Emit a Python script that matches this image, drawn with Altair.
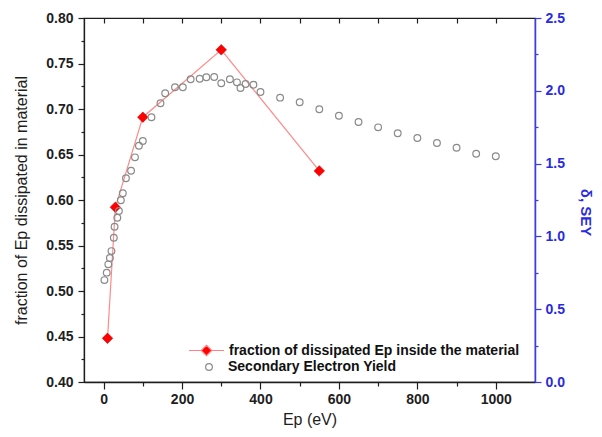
import altair as alt
import pandas as pd

# ---------------- data ----------------
frac_ep = [10, 30, 100, 300, 550]
frac_val = [0.448, 0.592, 0.691, 0.765, 0.632]

sey_ep = [2, 8, 12, 16, 20, 26, 28, 35, 39, 44, 49, 57, 70, 80, 90, 100,
          122, 145, 157, 182, 202, 222, 245, 262, 282, 300, 322, 340, 349,
          362, 382, 400, 450, 500, 550, 600, 650, 700, 750, 800, 850, 900,
          950, 1000]
sey_val = [0.700, 0.751, 0.808, 0.852, 0.899, 0.991, 1.066, 1.128, 1.174,
           1.248, 1.296, 1.399, 1.451, 1.543, 1.623, 1.655, 1.818, 1.914,
           1.983, 2.024, 2.024, 2.079, 2.083, 2.093, 2.095, 2.052, 2.079,
           2.058, 2.019, 2.047, 2.042, 1.992, 1.953, 1.921, 1.873, 1.829,
           1.786, 1.749, 1.708, 1.676, 1.641, 1.609, 1.568, 1.550]

x_ticks = [0, 100, 200, 300, 400, 500, 600, 700, 800, 900, 1000]
ly_ticks = [0.400, 0.425, 0.450, 0.475, 0.500, 0.525, 0.550, 0.575, 0.600,
            0.625, 0.650, 0.675, 0.700, 0.725, 0.750, 0.775, 0.800]
ry_ticks = [0.0, 0.25, 0.5, 0.75, 1.0, 1.25, 1.5, 1.75, 2.0, 2.25, 2.5]

lab_frac = "fraction of dissipated Ep inside the material"
lab_sey = "Secondary Electron Yield"

df_frac = pd.DataFrame({"ep": frac_ep, "val": frac_val, "series": lab_frac})
df_sey = pd.DataFrame({"ep": sey_ep, "val": sey_val, "series": lab_sey})

FONT = "Liberation Sans"
AXC = "#1e1e1e"
BLUE = "#3838ff"
BLUE_TXT = "#2a2ae0"

x_scale = alt.Scale(domain=[-50, 1100], nice=False, zero=False)

x_bottom = alt.Axis(
    values=x_ticks,
    labelExpr="datum.value % 200 == 0 ? format(datum.value, 'd') : ''",
    tickSize={"condition": {"test": "datum.value % 200 == 0", "value": 7}, "value": 4},
    labelFont=FONT, labelFontSize=14, labelFontWeight="bold", labelColor=AXC,
    labelPadding=3, labelFlush=False,
    title="Ep (eV)", titleFont=FONT, titleFontSize=16, titleFontWeight="normal",
    titleColor=AXC, titlePadding=5,
    domainColor=AXC, domainWidth=1.3, tickColor=AXC, tickWidth=1.2, grid=False,
)

x_top = alt.Axis(
    orient="top", values=x_ticks, labels=False, domain=False,
    tickSize=5, offset=-5, tickColor=AXC, tickWidth=1.2, grid=False, title=None,
)

major_l = "abs(datum.value*20 - round(datum.value*20)) < 0.001"
y_left = alt.Axis(
    values=ly_ticks,
    labelExpr=major_l + " ? format(datum.value, '.2f') : ''",
    tickSize={"condition": {"test": major_l, "value": 6}, "value": 3},
    labelFont=FONT, labelFontSize=14, labelFontWeight="bold", labelColor=AXC,
    labelPadding=5,
    title="fraction of Ep dissipated in material", titleFont=FONT,
    titleFontSize=16, titleFontWeight="normal", titleColor=AXC, titlePadding=16,
    domainColor=AXC, domainWidth=1.3, tickColor=AXC, tickWidth=1.2, grid=False,
)

major_r = "abs(datum.value*2 - round(datum.value*2)) < 0.001"
y_right = alt.Axis(
    orient="right", values=ry_ticks,
    labelExpr=major_r + " ? format(datum.value, '.1f') : ''",
    tickSize={"condition": {"test": major_r, "value": 6}, "value": 3},
    labelFont=FONT, labelFontSize=14, labelFontWeight="bold", labelColor=BLUE_TXT,
    labelPadding=4,
    title="δ, SEY", titleFont=FONT, titleFontSize=15, titleFontWeight="bold",
    titleColor=BLUE_TXT, titlePadding=13, titleY=194,
    domainColor=BLUE, domainWidth=1.5, tickColor=BLUE, tickWidth=1.2, grid=False,
)

base_a = alt.Chart(df_frac).encode(
    x=alt.X("ep:Q", scale=x_scale, axis=x_bottom),
    y=alt.Y("val:Q", scale=alt.Scale(domain=[0.4, 0.8], nice=False, zero=False), axis=y_left),
)

line = base_a.mark_line(color="#ff8a8a", strokeWidth=1.2)

legend_path = "M-1,0L-0.3,0M0.3,0L1,0M0,-0.3L0.3,0L0,0.3L-0.3,0Z"
pts = base_a.mark_point(
    filled=True, shape="diamond", size=110, stroke="#c00000", strokeWidth=0.6, opacity=1
).encode(
    fill=alt.Fill(
        "series:N",
        scale=alt.Scale(domain=[lab_frac], range=["#ff0000"]),
        legend=alt.Legend(
            orient="none", legendX=104, legendY=314, title=None,
            symbolType=legend_path, symbolSize=1225,
            symbolStrokeColor="#ff8080", symbolStrokeWidth=1.2,
            labelFont=FONT, labelFontSize=14, labelFontWeight="bold",
            labelColor="#111111", labelOffset=4, labelLimit=500, padding=0,
        ),
    )
)

layer_a = alt.layer(line, pts)

circ = alt.Chart(df_sey).mark_point(
    filled=False, shape="circle", size=45, strokeWidth=1.2, opacity=1
).encode(
    x=alt.X("ep:Q", scale=x_scale, axis=x_top),
    y=alt.Y("val:Q", scale=alt.Scale(domain=[0, 2.5], nice=False, zero=False), axis=y_right),
    stroke=alt.Stroke(
        "series:N",
        scale=alt.Scale(domain=[lab_sey], range=["#8a8a8a"]),
        legend=alt.Legend(
            orient="none", legendX=118, legendY=342, title=None,
            symbolType="circle", symbolSize=45, symbolStrokeWidth=1.2,
            labelFont=FONT, labelFontSize=14, labelFontWeight="bold",
            labelColor="#111111", labelOffset=12, labelLimit=500, padding=0,
        ),
    ),
)

chart = (
    alt.layer(layer_a, circ)
    .resolve_scale(y="independent")
    .resolve_axis(x="independent", y="independent")
    .properties(
        width=451, height=364,
        autosize=alt.AutoSizeParams(type="none"),
        padding={"left": 76, "top": 10, "right": 59, "bottom": 46},
        background="white",
    )
    .configure_view(stroke=AXC, strokeWidth=1.2)
)

chart.save("out.html", embed_options={"renderer": "svg", "actions": False})
